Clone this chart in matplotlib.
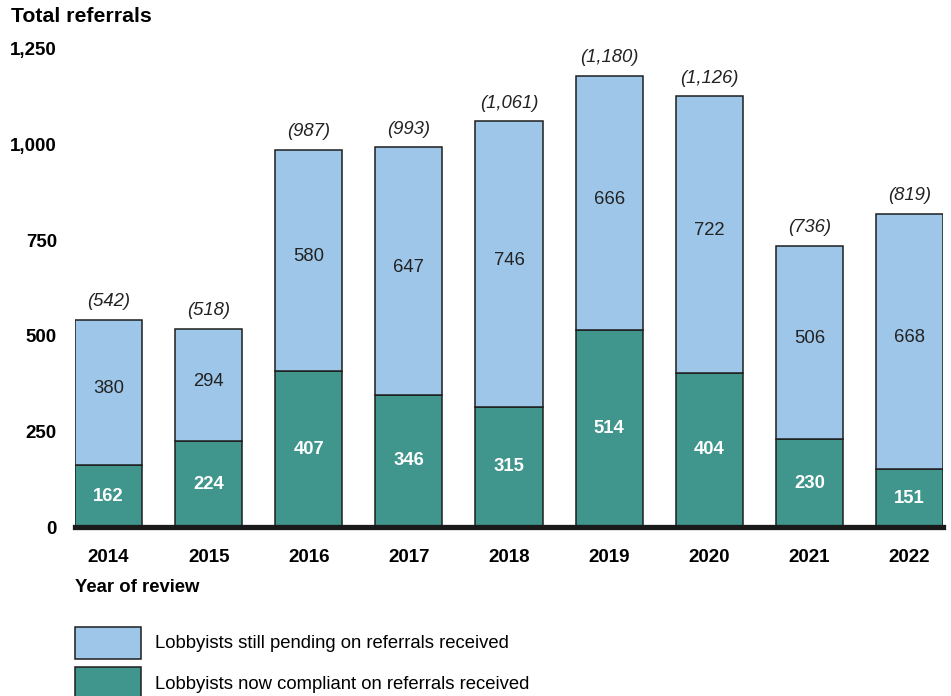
# Stacked bars: referrals by year of review, split into compliant / pending

import numpy
import matplotlib
import matplotlib.pyplot as plt
from matplotlib.patches import Patch

matplotlib.rc("font", family=["Liberation Sans", "DejaVu Sans"])

years = ["2014", "2015", "2016", "2017", "2018", "2019", "2020", "2021", "2022"]
compliant = [162, 224, 407, 346, 315, 514, 404, 230, 151]
pending = [380, 294, 580, 647, 746, 666, 722, 506, 668]
totals = [542, 518, 987, 993, 1061, 1180, 1126, 736, 819]

yticks = [0, 250, 500, 750, 1000, 1250]
ytick_labels = ["0", "250", "500", "750", "1,000", "1,250"]

pending_color = "#9dc6e9"
compliant_color = "#40968c"
edge = "#1e1e1e"

fig = plt.figure(figsize=(9.51, 6.96), dpi=100)
ax = fig.add_axes([0.0789, 0.2428, 0.9127, 0.6868])

index = numpy.arange(len(years))
width = 0.67
ax.bar(index, compliant, width, color=compliant_color, edgecolor=edge, linewidth=1.1)
ax.bar(index, pending, width, bottom=compliant, color=pending_color, edgecolor=edge, linewidth=1.1)

for i in index:
    ax.text(i, compliant[i] / 2, str(compliant[i]), ha="center", va="center",
            color="white", fontsize=13.3, fontweight="bold")
    ax.text(i, compliant[i] + pending[i] / 2 + 10, str(pending[i]), ha="center", va="center",
            color="#222222", fontsize=13.3)
    ax.text(i, totals[i] + 25, "({:,})".format(totals[i]), ha="center", va="bottom",
            color="#222222", fontsize=13.3, style="italic", clip_on=False)

ax.set_xlim(-0.335, len(years) - 1 + 0.335)
ax.set_ylim(0, 1250)
ax.set_xticks(index)
ax.set_xticklabels(years, fontsize=13.5, fontweight="bold")
ax.set_yticks(yticks)
ax.set_yticklabels(ytick_labels, fontsize=13.5, fontweight="bold")
ax.tick_params(axis="both", length=0)
ax.tick_params(axis="y", pad=13)
ax.tick_params(axis="x", pad=15.5)

for side in ["top", "right", "left"]:
    ax.spines[side].set_visible(False)
ax.spines["bottom"].set_linewidth(3.8)
ax.spines["bottom"].set_color("#1a1a1a")
ax.set_zorder(1)

fig.text(11 / 951, 1 - 16 / 696, "Total referrals", fontsize=15.3, fontweight="bold",
         ha="left", va="center")
fig.text(75 / 951, 1 - 587 / 696, "Year of review", fontsize=13.3, fontweight="bold",
         ha="left", va="center")

handles = [
    Patch(facecolor=pending_color, edgecolor=edge, linewidth=1.1,
          label="Lobbyists still pending on referrals received"),
    Patch(facecolor=compliant_color, edgecolor=edge, linewidth=1.1,
          label="Lobbyists now compliant on referrals received"),
]
fig.legend(handles=handles, loc="upper left", bbox_to_anchor=(75 / 951 - 0.004, 1 - 623 / 696),
           frameon=False, fontsize=13.3, handlelength=3.6, handleheight=2.3,
           labelspacing=0.45, handletextpad=0.75, borderpad=0.2, borderaxespad=0)

plt.savefig("out.png", dpi=100)
